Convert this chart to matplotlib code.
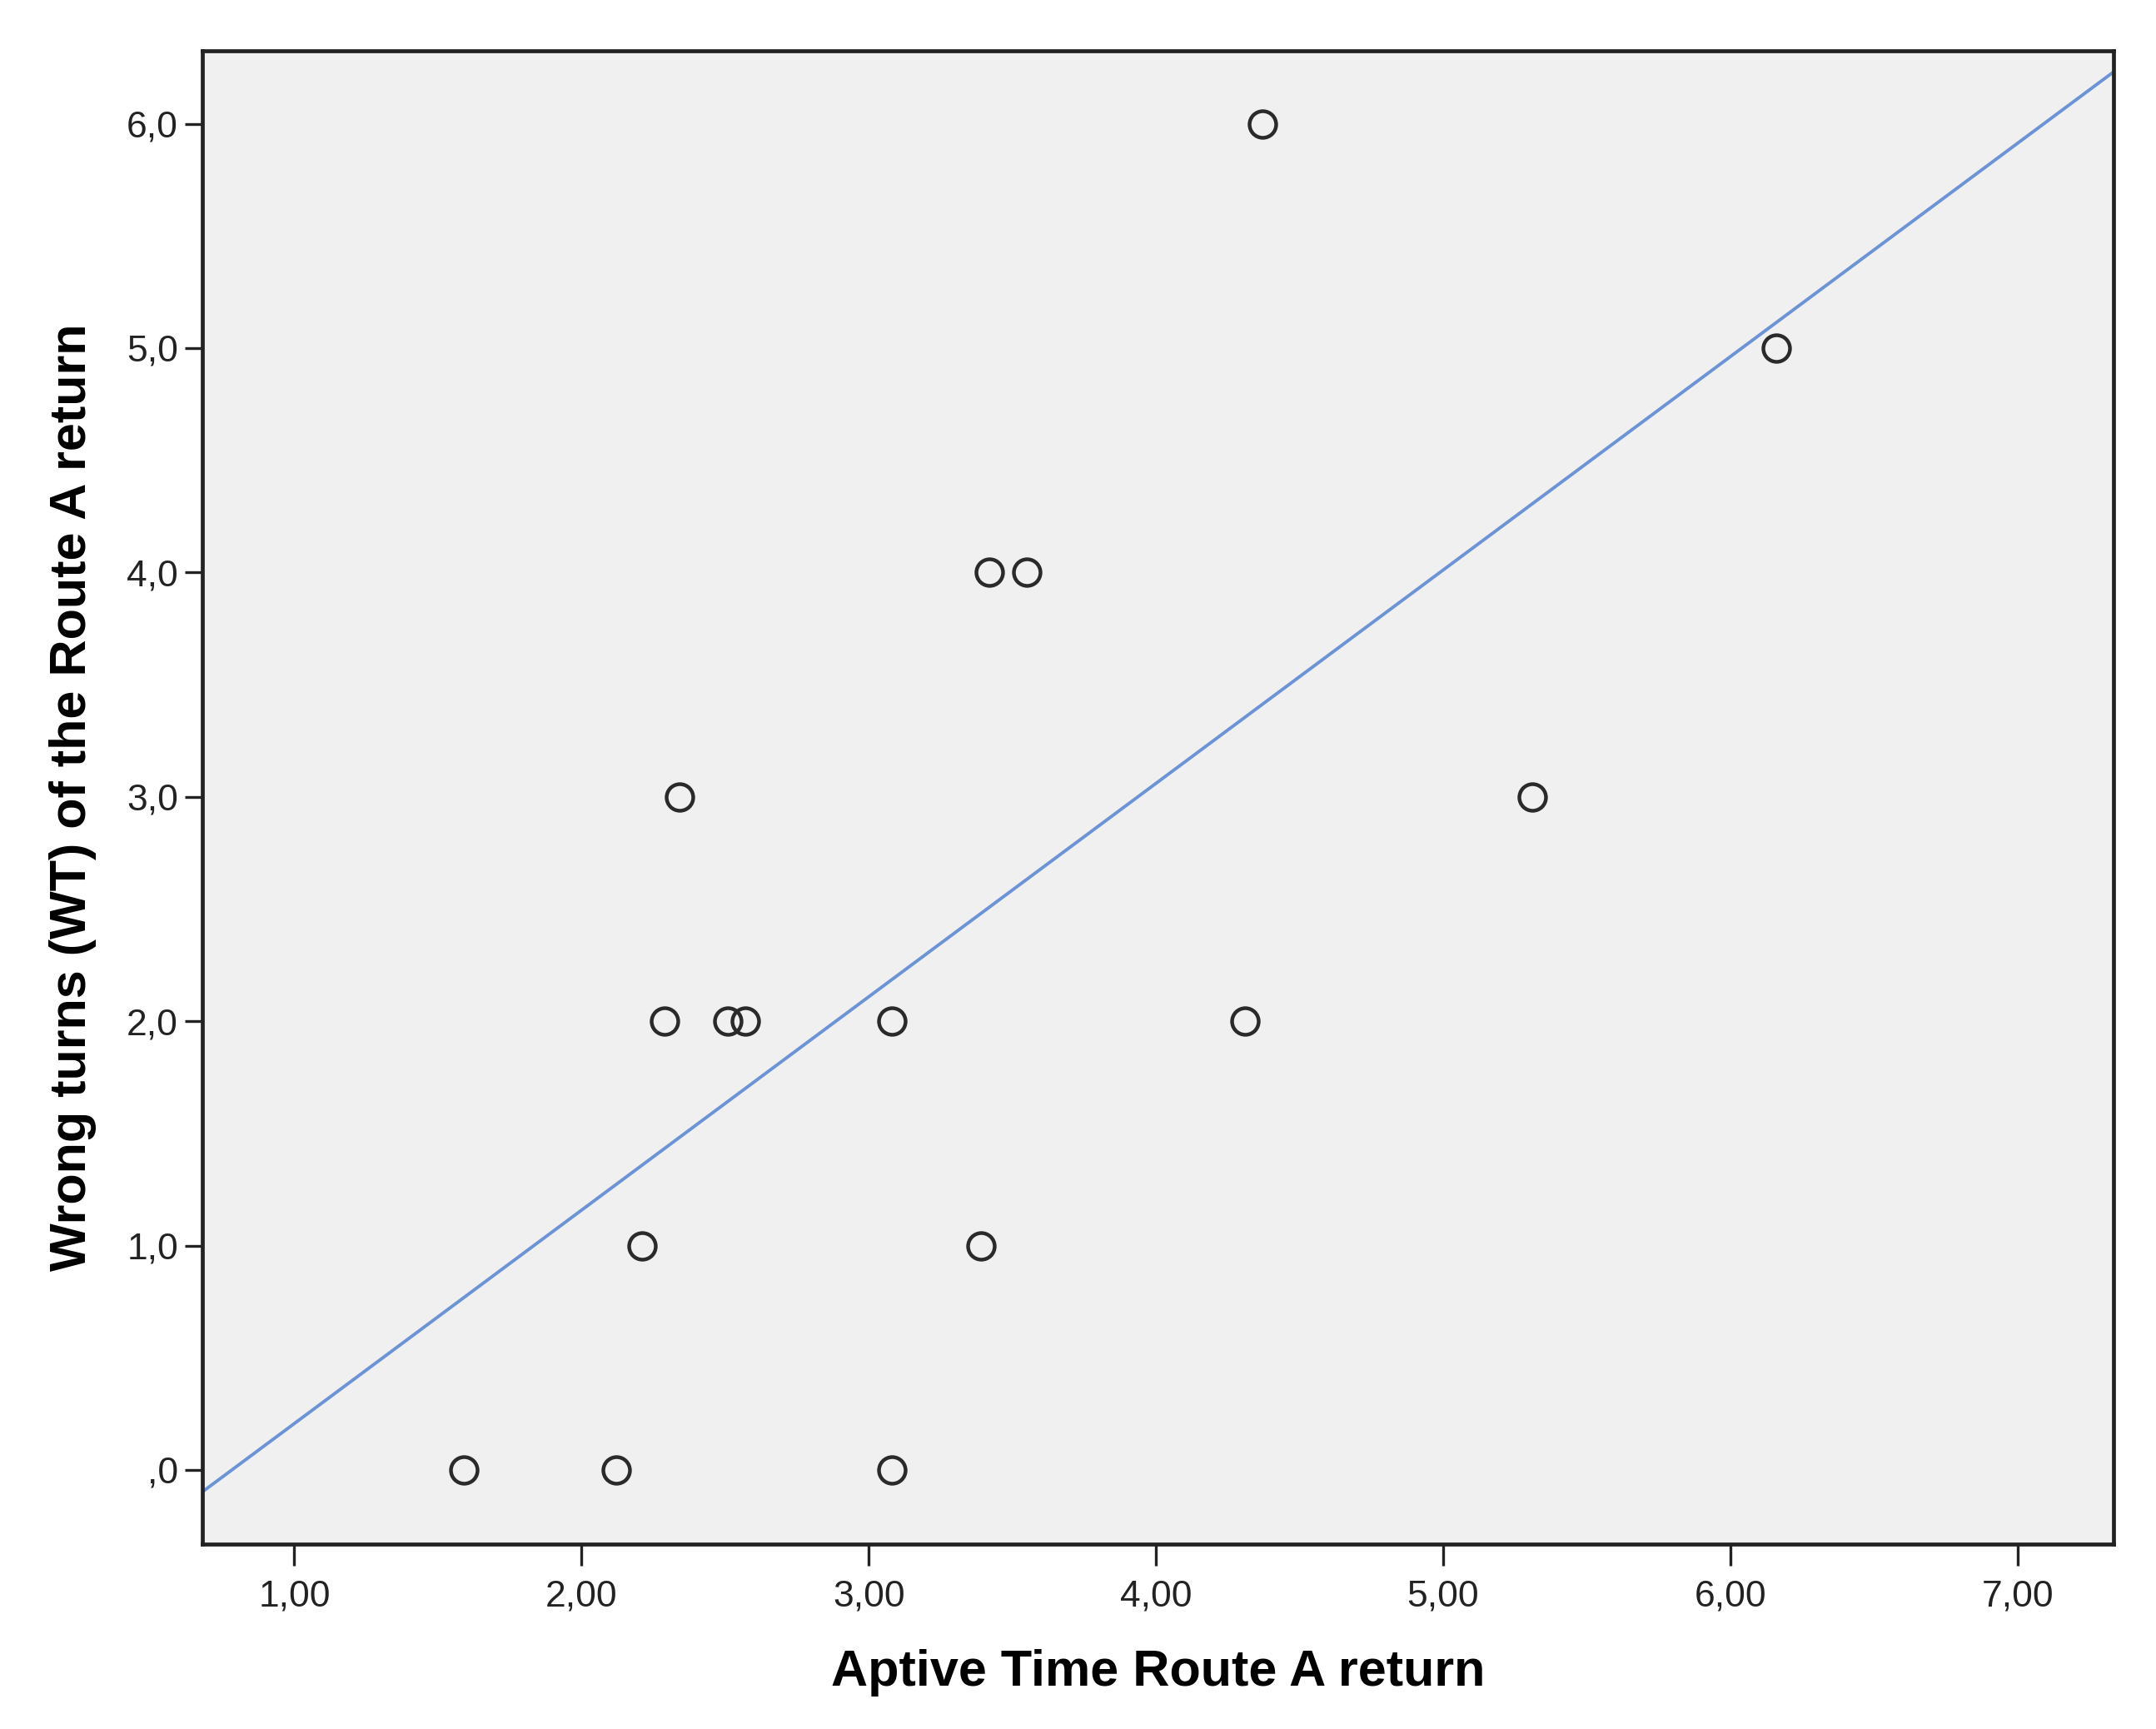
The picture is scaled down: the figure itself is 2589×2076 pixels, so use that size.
import matplotlib
matplotlib.use("Agg")
import matplotlib.pyplot as plt
import numpy as np

# Data
aptive_time = [1.59, 2.12, 3.08, 2.21, 3.39, 2.29, 2.51, 2.57, 3.08, 4.31,
               2.34, 5.31, 3.42, 3.55, 6.16, 4.37]
wrong_turns = [0, 0, 0, 1, 1, 2, 2, 2, 2, 2, 3, 3, 4, 4, 5, 6]

# Fit line as drawn in the reference (slope / intercept)
fit_slope = 0.951
fit_intercept = -0.744

x_ticks = [1, 2, 3, 4, 5, 6, 7]
x_tick_labels = ["1,00", "2,00", "3,00", "4,00", "5,00", "6,00", "7,00"]
y_ticks = [0, 1, 2, 3, 4, 5, 6]
y_tick_labels = [",0", "1,0", "2,0", "3,0", "4,0", "5,0", "6,0"]

plt.rcParams["font.family"] = ["Liberation Sans", "DejaVu Sans"]

fig = plt.figure(figsize=(25.89, 20.76), dpi=100)
ax = fig.add_axes([0.0939, 0.107, 0.8865, 0.8636])
ax.set_facecolor("#f0f0f0")

xlim = (0.68, 7.335)
xs = np.array(xlim)
ax.plot(xs, fit_slope * xs + fit_intercept, color="#6b93d6", linewidth=2.8, zorder=2)

ax.plot(aptive_time, wrong_turns, linestyle="none", marker="o", markersize=23,
        markerfacecolor="none", markeredgecolor="#2a2a2a", markeredgewidth=3.2,
        zorder=3)

ax.set_xlim(*xlim)
ax.set_ylim(-0.33, 6.325)
ax.set_xticks(x_ticks)
ax.set_xticklabels(x_tick_labels)
ax.set_yticks(y_ticks)
ax.set_yticklabels(y_tick_labels)

ax.tick_params(axis="x", direction="out", length=19, width=2.4, labelsize=32,
               pad=12, colors="#222222")
ax.tick_params(axis="y", direction="out", length=15, width=2.4, labelsize=32,
               pad=6, colors="#222222")

for side in ["left", "bottom", "top", "right"]:
    ax.spines[side].set_linewidth(3.4)
    ax.spines[side].set_color("#222222")

ax.set_xlabel("Aptive Time Route A return", fontsize=44, fontweight="bold", labelpad=30)
ax.set_ylabel("Wrong turns (WT) of the Route A return", fontsize=44, fontweight="bold", labelpad=26)

fig.savefig("out.png", dpi=100, facecolor="white")
